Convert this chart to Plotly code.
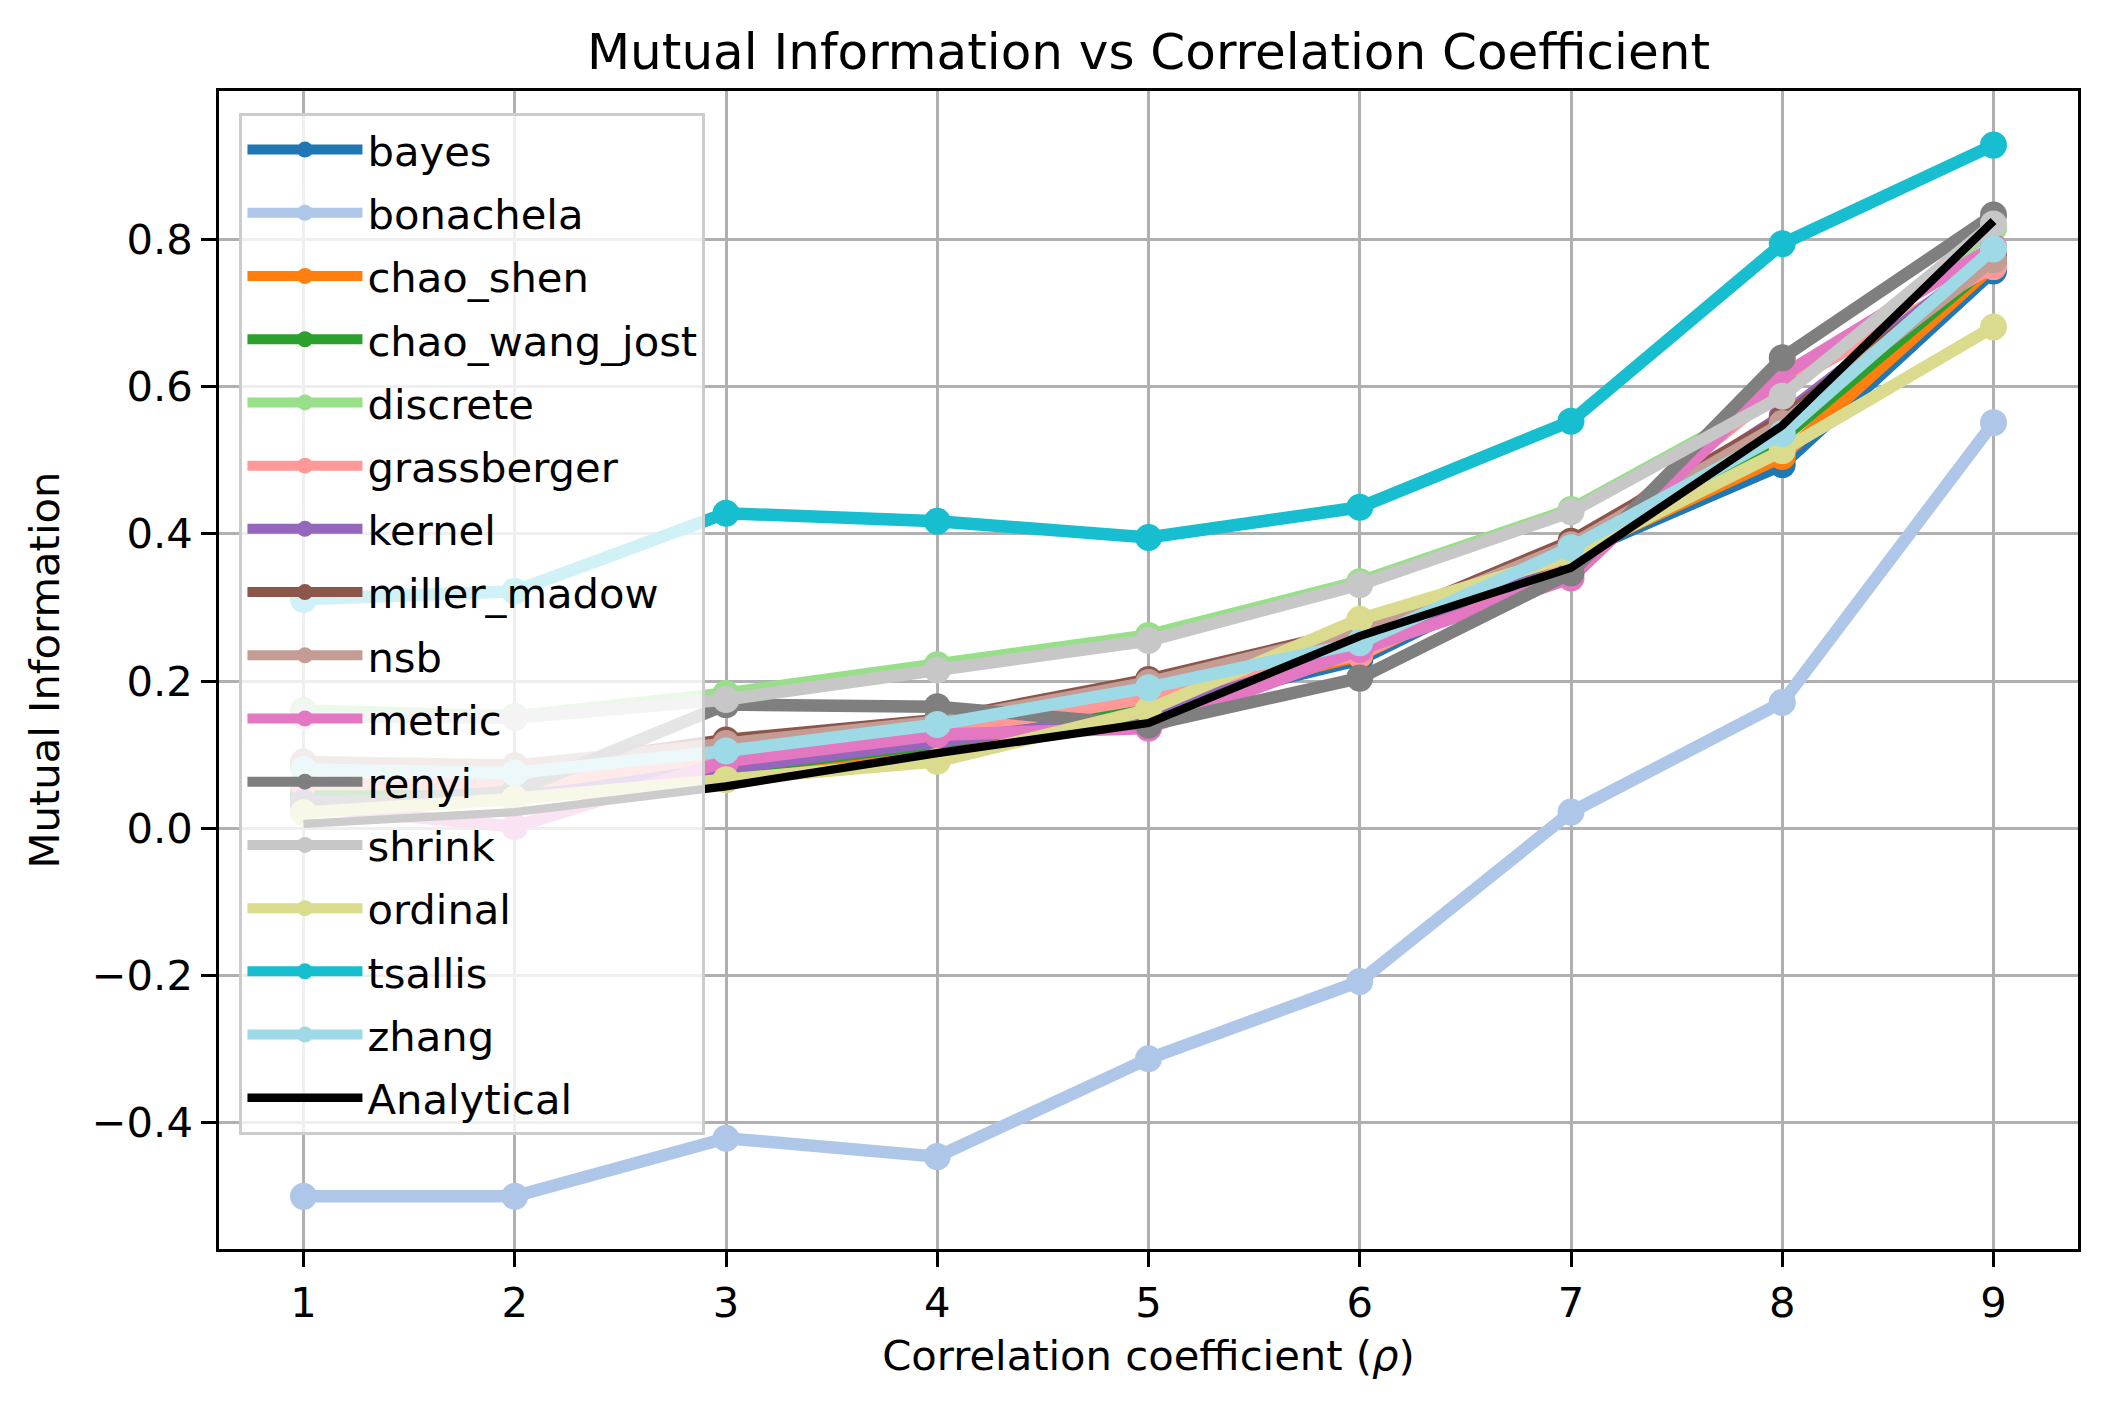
import plotly.graph_objects as go

rho = [1, 2, 3, 4, 5, 6, 7, 8, 9]

bayes = [0.040, 0.050, 0.075, 0.110, 0.160, 0.229, 0.370, 0.494, 0.757]
bonachela = [-0.500, -0.500, -0.421, -0.446, -0.313, -0.208, 0.022, 0.171, 0.551]
chao_shen = [0.050, 0.055, 0.078, 0.112, 0.163, 0.235, 0.372, 0.505, 0.765]
chao_wang_jost = [0.045, 0.050, 0.080, 0.115, 0.165, 0.238, 0.375, 0.530, 0.770]
discrete = [0.160, 0.152, 0.183, 0.222, 0.262, 0.335, 0.433, 0.590, 0.815]
grassberger = [0.060, 0.060, 0.089, 0.130, 0.177, 0.236, 0.370, 0.600, 0.763]
kernel = [0.035, 0.040, 0.082, 0.118, 0.154, 0.245, 0.375, 0.560, 0.780]
miller_madow = [0.085, 0.080, 0.120, 0.147, 0.202, 0.270, 0.390, 0.556, 0.775]
nsb = [0.090, 0.085, 0.115, 0.145, 0.198, 0.268, 0.385, 0.550, 0.772]
metric = [0.030, 0.002, 0.091, 0.127, 0.136, 0.243, 0.340, 0.615, 0.790]
renyi = [0.030, 0.050, 0.168, 0.165, 0.140, 0.204, 0.347, 0.639, 0.833]
shrink = [0.152, 0.150, 0.175, 0.215, 0.255, 0.331, 0.430, 0.587, 0.821]
ordinal = [0.021, 0.040, 0.066, 0.091, 0.161, 0.284, 0.370, 0.513, 0.681]
tsallis = [0.311, 0.322, 0.428, 0.417, 0.395, 0.436, 0.553, 0.794, 0.928]
zhang = [0.080, 0.075, 0.105, 0.141, 0.191, 0.252, 0.381, 0.536, 0.787]
analytical = [0.006, 0.022, 0.057, 0.102, 0.143, 0.261, 0.354, 0.547, 0.825]

series_names = ["bayes", "bonachela", "chao_shen", "chao_wang_jost", "discrete",
                "grassberger", "kernel", "miller_madow", "nsb", "metric", "renyi",
                "shrink", "ordinal", "tsallis", "zhang"]
series_values = [bayes, bonachela, chao_shen, chao_wang_jost, discrete, grassberger,
                 kernel, miller_madow, nsb, metric, renyi, shrink, ordinal, tsallis, zhang]
colors = ["#1f77b4", "#aec7e8", "#ff7f0e", "#2ca02c", "#98df8a", "#ff9896",
          "#9467bd", "#8c564b", "#c49c94", "#e377c2", "#7f7f7f", "#c7c7c7",
          "#dbdb8d", "#17becf", "#9edae5"]

FONT = "DejaVu Sans"
fig = go.Figure()
for i, (name, vals, col) in enumerate(zip(series_names, series_values, colors)):
    fig.add_trace(go.Scatter(
        x=rho, y=vals, name=name, mode="lines+markers",
        line=dict(color=col, width=12.5),
        marker=dict(color=col, size=27),
        legendgroup=name,
    ))
fig.add_trace(go.Scatter(
    x=rho, y=analytical, name="Analytical", mode="lines",
    line=dict(color="black", width=8.3), legendgroup="Analytical",
))

axis_common = dict(
    showgrid=True, gridcolor="#b0b0b0", gridwidth=3.3,
    showline=True, mirror=True, linecolor="black", linewidth=3.3,
    ticks="outside", ticklen=14.6, tickwidth=3.3, tickcolor="black",
    zeroline=False, tickfont=dict(family=FONT, size=41.7, color="black"),
)

fig.update_layout(
    width=2108, height=1411,
    margin=dict(l=219, r=30, t=91, b=162),
    paper_bgcolor="white", plot_bgcolor="white",
    font=dict(family=FONT, color="black"),
    title=dict(text="Mutual Information vs Correlation Coefficient",
               font=dict(family=FONT, size=50, color="black"),
               x=0.5, xref="paper", xanchor="center",
               y=1 - 51 / 1411, yref="container", yanchor="middle"),
    xaxis=dict(range=[0.6, 9.4], tickvals=rho,
               title=dict(text="Correlation coefficient (<i>ρ</i>)",
                          font=dict(family=FONT, size=41.7, color="black"), standoff=16),
               **axis_common),
    yaxis=dict(range=[-0.5715, 1.0015], tickvals=[-0.4, -0.2, 0.0, 0.2, 0.4, 0.6, 0.8],
               tickformat=".1f",
               title=dict(text="Mutual Information",
                          font=dict(family=FONT, size=41.7, color="black"), standoff=20),
               **axis_common),
    legend=dict(x=0.011, y=0.981, xanchor="left", yanchor="top",
                bgcolor="rgba(255,255,255,0.8)", bordercolor="#cccccc", borderwidth=3,
                font=dict(family=FONT, size=41.7, color="black"),
                itemwidth=115, tracegroupgap=6),
    showlegend=True,
)

fig.write_html("out.html")
